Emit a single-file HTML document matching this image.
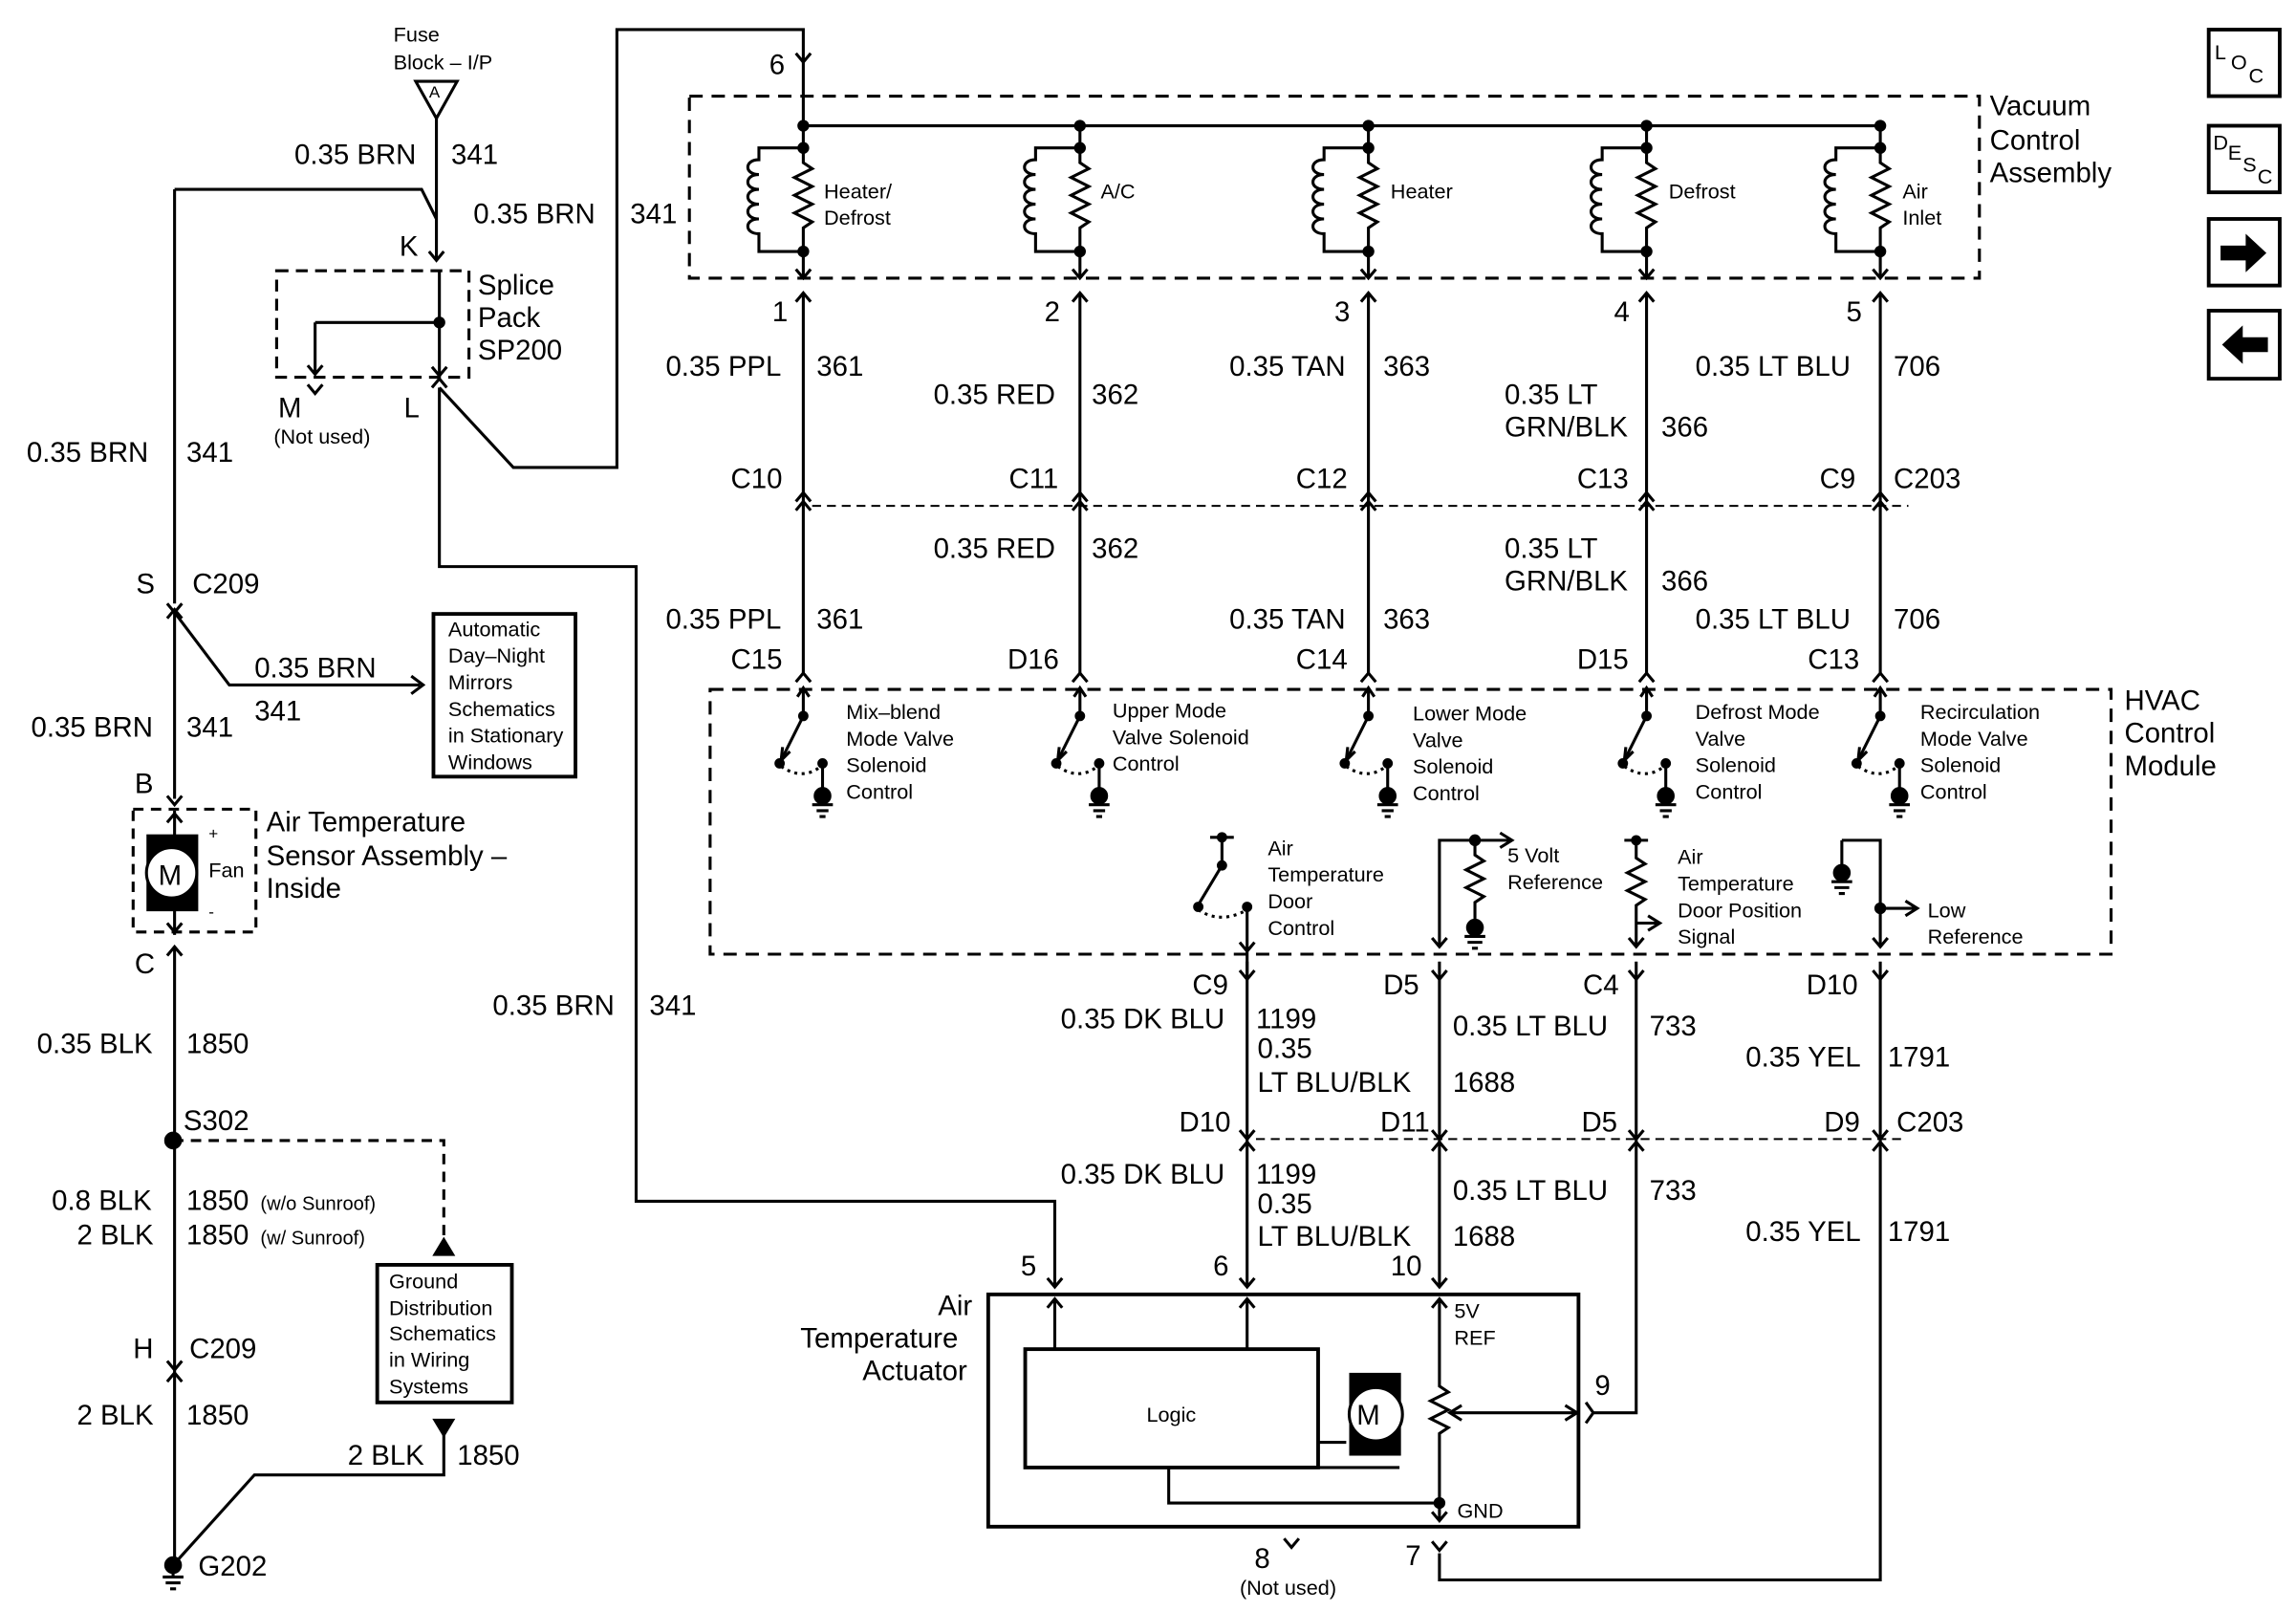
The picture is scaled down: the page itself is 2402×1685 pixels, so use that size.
<!DOCTYPE html>
<html><head><meta charset="utf-8"><style>
html,body{margin:0;padding:0;background:#fff}
svg{display:block}
text{font-family:"Liberation Sans",Arial,sans-serif;fill:#000}
.L{font-size:19px}
.S{font-size:14px}
</style></head><body>
<svg width="2402" height="1685" viewBox="0 0 1552 1089" preserveAspectRatio="none" xmlns="http://www.w3.org/2000/svg">
<defs>
<g id="vac" fill="none" stroke="#000" stroke-width="2">
<path d="M0,85V110l6,4-12,6 12,6-12,6 12,6-12,6 12,6-6,4V188"/>
<path d="M0,100H-30V108c-10,0-10,10 0,10c-10,0-10,10 0,10c-10,0-10,10 0,10c-10,0-10,10 0,10c-10,0-10,10 0,10V170H0"/>
<circle cx="0" cy="85" r="3" fill="#000"/><circle cx="0" cy="100" r="3" fill="#000"/><circle cx="0" cy="170" r="3" fill="#000"/>
<path d="M-5,182l5,6 5,-6"/>
</g>
<g id="sw" fill="none" stroke="#000" stroke-width="2">
<path d="M0,466V484"/><path d="M-4,471l4,-6 4,6"/>
<circle cx="0" cy="484" r="2.5" fill="#000"/>
<path d="M0,484L-15,514"/><path d="M-14,505l-1,9 6,-6"/>
<circle cx="-16" cy="516" r="2.5" fill="#000"/>
<path d="M-15,518q14,10 27,0" stroke-dasharray="2,3"/>
<circle cx="13" cy="516" r="2.5" fill="#000"/>
<path d="M13,516V535"/><circle cx="13" cy="538" r="5" fill="#000"/>
<path d="M6,544H20M9,548H17M11,552H15"/>
</g>
</defs>
<g fill="none" stroke="#000" stroke-width="2">
<path d="M281,55H309L295,80Z"/>
<path d="M295,80V175M290,170l5,6 5,-6"/>
<path d="M118,128H285L295,148"/>
<path d="M118,128V408"/>
<rect x="187" y="183" width="130" height="72" stroke-dasharray="8,5"/>
<path d="M297,183V255M213,218H297M213,218V252M208,247l5,6 5,-6M292,248l5,6 5,-6"/>
<circle cx="297" cy="218" r="3" fill="#000"/>
<path d="M208,260l5,6 5,-6M292,262l5,-6 5,6"/>
<path d="M297,262L347,316H417V20H543V42M538,36l5,6 5,-6"/>
<path d="M297,262V383H430V812H713V870"/>
<path d="M113,408l5,6 5,-6M113,418l5,-6 5,6"/>
<path d="M118,414V540M118,414L155,463H284M278,457l8,6 -8,6" />
<rect x="293" y="415" width="96" height="110" stroke-width="2.5"/>
<path d="M113,538l5,6 5,-6"/>
<rect x="90" y="547" width="83" height="83" stroke-dasharray="7,5"/>
<path d="M118,548V565M113,556l5,-6 5,6M118,615V632M113,624l5,6 5,-6"/>
<rect x="100" y="565" width="33" height="50" fill="#000"/>
<circle cx="116" cy="590" r="17" fill="#fff"/>
<path d="M118,640V1058M113,646l5,-6 5,6"/>
<circle cx="117" cy="771" r="5" fill="#000"/>
<path d="M117,771H300V840" stroke-dasharray="7,5"/>
<path d="M294,848l6,-10 6,10Z" fill="#000"/>
<rect x="255" y="855" width="91" height="93" stroke-width="2.5"/>
<path d="M294,960l6,10 6,-10Z" fill="#000"/>
<path d="M113,920l5,6 5,-6M113,934l5,-6 5,6"/>
<circle cx="117" cy="1058" r="5" fill="#000"/>
<path d="M110,1066H124M112,1070H122M115,1074H119M117,1058V1066"/>
<path d="M117,1058L172,997H300V970"/>
<rect x="466" y="65" width="872" height="123" stroke-dasharray="9,6"/>
<path d="M543,85H1271"/>
<path d="M543,42V85"/>
<path d="M543,198V455M730,198V455M925,198V455M1113,198V455M1271,198V455"/>
<path d="M538,204l5,-6 5,6M725,204l5,-6 5,6M920,204l5,-6 5,6M1108,204l5,-6 5,6M1266,204l5,-6 5,6"/>
<path d="M538,339l5,-6 5,6M538,345l5,-6 5,6M725,339l5,-6 5,6M725,345l5,-6 5,6M920,339l5,-6 5,6M920,345l5,-6 5,6M1108,339l5,-6 5,6M1108,345l5,-6 5,6M1266,339l5,-6 5,6M1266,345l5,-6 5,6"/>
<path d="M549,342H1290" stroke-dasharray="6,4" stroke-width="1.3"/>
<path d="M538,461l5,-6 5,6M725,461l5,-6 5,6M920,461l5,-6 5,6M1108,461l5,-6 5,6M1266,461l5,-6 5,6"/>
<rect x="480" y="466" width="947" height="179" stroke-dasharray="9,6"/>
<path d="M818,566H834M826,566V585M826,585L811,610"/><circle cx="826" cy="566" r="2.5" fill="#000"/><circle cx="826" cy="585" r="2.5" fill="#000"/><circle cx="810" cy="613" r="2.5" fill="#000"/><circle cx="843" cy="613" r="2.5" fill="#000"/>
<path d="M810,615q15,10 33,0" stroke-dasharray="2,3"/><path d="M843,613V660M838,637l5,6 5,-6"/>
<path d="M973,640V568H1020M1014,563l8,5 -8,5M997,568V578l6,4-12,6 12,6-12,6 12,6-6,4V625M968,634l5,6 5,-6"/>
<circle cx="997" cy="568" r="3" fill="#000"/><circle cx="997" cy="627" r="5" fill="#000"/><path d="M990,633H1004M992,637H1002M995,641H999"/>
<path d="M1098,568H1114M1106,568V580l6,4-12,6 12,6-12,6 12,6-6,4V624H1120M1114,619l8,5 -8,5M1106,624V640M1101,634l5,6 5,-6"/>
<circle cx="1106" cy="568" r="2.5" fill="#000"/>
<circle cx="1245" cy="590" r="5" fill="#000"/><path d="M1238,596H1252M1240,600H1250M1243,604H1247M1245,568V585M1245,568H1271V640M1266,634l5,6 5,-6M1271,614H1294M1288,609l8,5 -8,5"/>
<circle cx="1271" cy="614" r="3" fill="#000"/>
<path d="M843,650V870M973,650V870M1106,650V955H1077M1271,650V1068H973V1050"/>
<path d="M838,656l5,6 5,-6M968,656l5,6 5,-6M1101,656l5,6 5,-6M1266,656l5,6 5,-6"/>
<path d="M838,764l5,6 5,-6M838,778l5,-6 5,6M968,764l5,6 5,-6M968,778l5,-6 5,6M1101,764l5,6 5,-6M1101,778l5,-6 5,6M1266,764l5,6 5,-6M1266,778l5,-6 5,6"/>
<path d="M849,770H1285" stroke-dasharray="6,4" stroke-width="1.3"/>
<path d="M708,864l5,6 5,-6M838,864l5,6 5,-6M968,864l5,6 5,-6"/>
<rect x="668" y="875" width="399" height="157" stroke-width="2.5"/>
<rect x="693" y="912" width="198" height="80" stroke-width="2.5"/>
<path d="M713,912V878M708,884l5,-6 5,6M843,912V878M838,884l5,-6 5,6M973,878V937l6,4-12,6 12,6-12,6 12,6-6,4V1028M968,884l5,-6 5,6M968,1022l5,6 5,-6"/>
<path d="M891,975H910M891,992H946"/>
<rect x="913" y="929" width="33" height="54" fill="#000"/>
<circle cx="930" cy="956" r="18" fill="#fff"/>
<path d="M980,955H1066M988,950l-8,5 8,5M1058,950l8,5 -8,5"/>
<path d="M790,992V1016H973"/><circle cx="973" cy="1016" r="3" fill="#000"/>
<path d="M1072,948l5,7 -5,7M968,1042l5,6 5,-6M868,1040l5,6 5,-6"/>
<rect x="1493" y="20" width="48" height="45" stroke-width="2.5"/>
<rect x="1493" y="85" width="48" height="45" stroke-width="2.5"/>
<rect x="1493" y="148" width="48" height="45" stroke-width="2.5"/>
<rect x="1493" y="210" width="48" height="46" stroke-width="2.5"/>
</g>
<path d="M1501,166H1518V158L1532,171 1518,184V176H1501Z" fill="#000"/>
<path d="M1533,228H1516V220L1502,233 1516,246V238H1533Z" fill="#000"/>
<use href="#vac" x="543"/><use href="#vac" x="730"/><use href="#vac" x="925"/><use href="#vac" x="1113"/><use href="#vac" x="1271"/>
<use href="#sw" x="543"/><use href="#sw" x="730"/><use href="#sw" x="925"/><use href="#sw" x="1113"/><use href="#sw" x="1271"/>
<g class="S">
<text x="266" y="28">Fuse</text><text x="266" y="47">Block – I/P</text>
<text x="290" y="66" font-size="11">A</text>
<text x="185" y="300">(Not used)</text>
<text x="303" y="430">Automatic</text><text x="303" y="448">Day–Night</text><text x="303" y="466">Mirrors</text><text x="303" y="484">Schematics</text><text x="303" y="502">in Stationary</text><text x="303" y="520">Windows</text>
<text x="141" y="567" font-size="11">+</text><text x="141" y="593">Fan</text><text x="141" y="620" font-size="11">-</text>
<text x="263" y="871">Ground</text><text x="263" y="889">Distribution</text><text x="263" y="906">Schematics</text><text x="263" y="924">in Wiring</text><text x="263" y="942">Systems</text>
<text x="557" y="134">Heater/</text><text x="557" y="152">Defrost</text><text x="744" y="134">A/C</text><text x="940" y="134">Heater</text><text x="1128" y="134">Defrost</text><text x="1286" y="134">Air</text><text x="1286" y="152">Inlet</text>
<text x="572" y="486">Mix–blend</text><text x="572" y="504">Mode Valve</text><text x="572" y="522">Solenoid</text><text x="572" y="540">Control</text>
<text x="752" y="485">Upper Mode</text><text x="752" y="503">Valve Solenoid</text><text x="752" y="521">Control</text>
<text x="955" y="487">Lower Mode</text><text x="955" y="505">Valve</text><text x="955" y="523">Solenoid</text><text x="955" y="541">Control</text>
<text x="1146" y="486">Defrost Mode</text><text x="1146" y="504">Valve</text><text x="1146" y="522">Solenoid</text><text x="1146" y="540">Control</text>
<text x="1298" y="486">Recirculation</text><text x="1298" y="504">Mode Valve</text><text x="1298" y="522">Solenoid</text><text x="1298" y="540">Control</text>
<text x="857" y="578">Air</text><text x="857" y="596">Temperature</text><text x="857" y="614">Door</text><text x="857" y="632">Control</text>
<text x="1019" y="583">5 Volt</text><text x="1019" y="601">Reference</text>
<text x="1134" y="584">Air</text><text x="1134" y="602">Temperature</text><text x="1134" y="620">Door Position</text><text x="1134" y="638">Signal</text>
<text x="1303" y="620">Low</text><text x="1303" y="638">Reference</text>
<text x="775" y="961">Logic</text>
<text x="983" y="891">5V</text><text x="983" y="909">REF</text><text x="985" y="1026">GND</text>
<text x="838" y="1078">(Not used)</text>
</g>
<g class="L">
<text x="199" y="111">0.35 BRN</text><text x="305" y="111">341</text>
<text x="320" y="151">0.35 BRN</text><text x="426" y="151">341</text>
<text x="270" y="173">K</text><text x="323" y="199">Splice</text><text x="323" y="221">Pack</text><text x="323" y="243">SP200</text>
<text x="188" y="282">M</text><text x="273" y="282">L</text>
<text x="18" y="312">0.35 BRN</text><text x="126" y="312">341</text>
<text x="92" y="401">S</text><text x="130" y="401">C209</text>
<text x="172" y="458">0.35 BRN</text><text x="172" y="487">341</text>
<text x="21" y="498">0.35 BRN</text><text x="126" y="498">341</text>
<text x="91" y="536">B</text><text x="91" y="658">C</text>
<text x="180" y="562">Air Temperature</text><text x="180" y="585">Sensor Assembly –</text><text x="180" y="607">Inside</text>
<text x="25" y="712">0.35 BLK</text><text x="126" y="712">1850</text>
<text x="124" y="764">S302</text>
<text x="35" y="818">0.8 BLK</text><text x="126" y="818">1850</text><text x="176" y="818" font-size="13">(w/o Sunroof)</text>
<text x="52" y="841">2 BLK</text><text x="126" y="841">1850</text><text x="176" y="841" font-size="13">(w/ Sunroof)</text>
<text x="90" y="918">H</text><text x="128" y="918">C209</text>
<text x="52" y="963">2 BLK</text><text x="126" y="963">1850</text>
<text x="235" y="990">2 BLK</text><text x="309" y="990">1850</text>
<text x="134" y="1065">G202</text>
<text x="333" y="686">0.35 BRN</text><text x="439" y="686">341</text>
<text x="520" y="50">6</text>
<text x="1345" y="78">Vacuum</text><text x="1345" y="101">Control</text><text x="1345" y="123">Assembly</text>
<text x="522" y="217">1</text><text x="706" y="217">2</text><text x="902" y="217">3</text><text x="1091" y="217">4</text><text x="1248" y="217">5</text>
<text x="450" y="254">0.35 PPL</text><text x="552" y="254">361</text>
<text x="631" y="273">0.35 RED</text><text x="738" y="273">362</text>
<text x="831" y="254">0.35 TAN</text><text x="935" y="254">363</text>
<text x="1017" y="273">0.35 LT</text><text x="1017" y="295">GRN/BLK</text><text x="1123" y="295">366</text>
<text x="1146" y="254">0.35 LT BLU</text><text x="1280" y="254">706</text>
<text x="494" y="330">C10</text><text x="682" y="330">C11</text><text x="876" y="330">C12</text><text x="1066" y="330">C13</text><text x="1230" y="330">C9</text><text x="1280" y="330">C203</text>
<text x="631" y="377">0.35 RED</text><text x="738" y="377">362</text>
<text x="1017" y="377">0.35 LT</text><text x="1017" y="399">GRN/BLK</text><text x="1123" y="399">366</text>
<text x="450" y="425">0.35 PPL</text><text x="552" y="425">361</text>
<text x="831" y="425">0.35 TAN</text><text x="935" y="425">363</text>
<text x="1146" y="425">0.35 LT BLU</text><text x="1280" y="425">706</text>
<text x="494" y="452">C15</text><text x="681" y="452">D16</text><text x="876" y="452">C14</text><text x="1066" y="452">D15</text><text x="1222" y="452">C13</text>
<text x="1436" y="480">HVAC</text><text x="1436" y="502">Control</text><text x="1436" y="524">Module</text>
<text x="806" y="672">C9</text><text x="935" y="672">D5</text><text x="1070" y="672">C4</text><text x="1221" y="672">D10</text>
<text x="717" y="695">0.35 DK BLU</text><text x="849" y="695">1199</text>
<text x="850" y="715">0.35</text><text x="850" y="738">LT BLU/BLK</text><text x="982" y="738">1688</text>
<text x="982" y="700">0.35 LT BLU</text><text x="1115" y="700">733</text>
<text x="1180" y="721">0.35 YEL</text><text x="1276" y="721">1791</text>
<text x="797" y="765">D10</text><text x="933" y="765">D11</text><text x="1069" y="765">D5</text><text x="1233" y="765">D9</text><text x="1282" y="765">C203</text>
<text x="717" y="800">0.35 DK BLU</text><text x="849" y="800">1199</text>
<text x="850" y="820">0.35</text><text x="850" y="842">LT BLU/BLK</text><text x="982" y="842">1688</text>
<text x="982" y="811">0.35 LT BLU</text><text x="1115" y="811">733</text>
<text x="1180" y="839">0.35 YEL</text><text x="1276" y="839">1791</text>
<text x="690" y="862">5</text><text x="820" y="862">6</text><text x="940" y="862">10</text>
<text x="634" y="889">Air</text><text x="541" y="911">Temperature</text><text x="583" y="933">Actuator</text>
<text x="1078" y="943">9</text>
<text x="848" y="1060">8</text><text x="950" y="1058">7</text>
<text x="917" y="963">M</text>
<text x="107" y="598">M</text>
</g>
<text x="1497" y="40" font-size="14">L</text><text x="1508" y="47" font-size="14">O</text><text x="1520" y="56" font-size="14">C</text>
<text x="1496" y="101" font-size="14">D</text><text x="1506" y="108" font-size="14">E</text><text x="1516" y="116" font-size="14">S</text><text x="1526" y="124" font-size="14">C</text>
</svg>
</body></html>
